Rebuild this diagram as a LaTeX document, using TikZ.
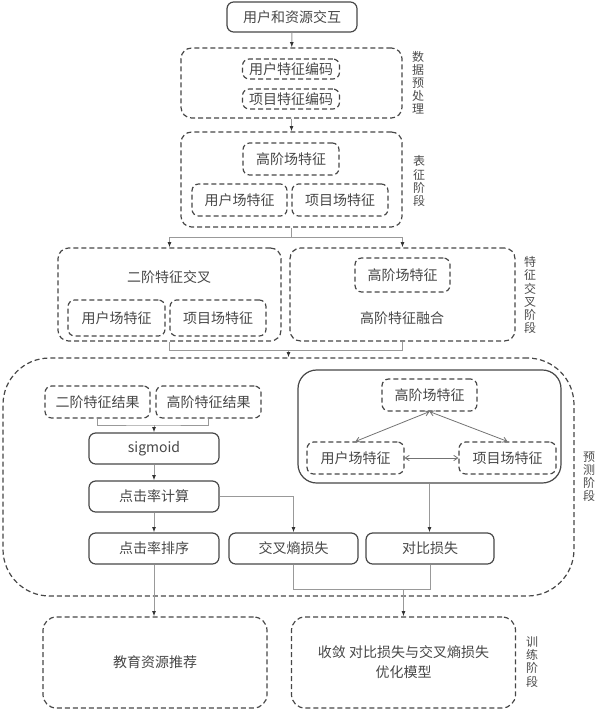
\documentclass[tikz,border=0pt]{standalone}
\usepackage{fontspec}
\setmainfont{Noto Sans CJK SC}
\usetikzlibrary{arrows.meta}
\newlength\pxu
\setlength\pxu{0.75pt}
\begin{document}
\begin{tikzpicture}[x=0.75pt,y=-0.75pt,font=\fontsize{10.5}{15}\selectfont,text=black!72,
                    >={Latex[length=4pt,width=3pt,color=black!80]}]
    \tikzstyle{boite}=[draw=black!72,line width=0.9pt,rounded corners=5pt,inner sep=0pt]
    \tikzstyle{tiret}=[boite,dash pattern=on 3.75pt off 2.25pt]
    \tikzstyle{cadre}=[tiret,rounded corners=8pt]
    \tikzstyle{lien}=[draw=black!40,line width=0.7pt]
    \tikzstyle{double}=[draw=black!55,line width=0.6pt,{Straight Barb[length=3pt,width=4pt]}-{Straight Barb[length=3pt,width=4pt]}]
    \tikzstyle{etape}=[align=center,font=\fontsize{9}{9.8}\selectfont,text=black!70]
    \tikzset{taille/.style 2 args={minimum width=#1\pxu,minimum height=#2\pxu}}
    \useasboundingbox (0,0) rectangle (600,713);
    % donnees
    \node[boite,taille={130}{30}] (inter) at (292,17) {用户和资源交互};
    \node[cadre,taille={221}{70}] (pre) at (291.5,83) {};
    \node[tiret,taille={97}{20}] (ucode) at (291,69) {用户特征编码};
    \node[tiret,taille={97}{20}] (icode) at (291,99) {项目特征编码};
    \node[etape] at (418,83) {数\\据\\预\\处\\理};
    % representation
    \node[cadre,taille={221}{95}] (rep) at (291.5,179.5) {};
    \node[tiret,taille={96}{32}] (rhaut) at (291,159) {高阶场特征};
    \node[tiret,taille={95}{32}] (ruser) at (239.5,200) {用户场特征};
    \node[tiret,taille={96}{32}] (ritem) at (340,200) {项目场特征};
    \node[etape] at (419,181) {表\\征\\阶\\段};
    % croisement
    \node[cadre,taille={223}{93}] (croix) at (169.5,294.5) {};
    \node at (169,277) {二阶特征交叉};
    \node[tiret,taille={97}{36}] (cuser) at (116.5,318) {用户场特征};
    \node[tiret,taille={96}{36}] (citem) at (218,318) {项目场特征};
    \node[cadre,taille={225}{93}] (fusion) at (402.5,294.5) {};
    \node[tiret,taille={95}{34}] (fhaut) at (402.5,275) {高阶场特征};
    \node at (402,318) {高阶特征融合};
    \node[etape] at (530,295) {特\\征\\交\\叉\\阶\\段};
    % prediction
    \node[tiret,rounded corners=35pt,taille={571}{238}] (pred) at (288.5,477) {};
    \node[etape] at (589,477) {预\\测\\阶\\段};
    \node[tiret,taille={105}{32}] (res2) at (97.5,402) {二阶特征结果};
    \node[tiret,taille={105}{32}] (resh) at (208.5,402) {高阶特征结果};
    \node[boite,taille={130}{31}] (sig) at (154,448.5) {sigmoid};
    \node[boite,taille={130}{31}] (ctr) at (154,496.5) {点击率计算};
    \node[boite,taille={130}{31}] (tri) at (154,548.5) {点击率排序};
    \node[boite,taille={129}{31}] (ce) at (293.5,548.5) {交叉熵损失};
    \node[boite,taille={128}{31}] (cl) at (430,548.5) {对比损失};
    \node[boite,rounded corners=14pt,taille={263}{113}] (graphe) at (429.5,426.5) {};
    \node[tiret,taille={95}{32}] (ghaut) at (429.5,395) {高阶场特征};
    \node[tiret,taille={97}{32}] (guser) at (355.5,458) {用户场特征};
    \node[tiret,taille={97}{32}] (gitem) at (507.5,458) {项目场特征};
    % entrainement
    \node[cadre,rounded corners=10pt,taille={224}{91}] (rec) at (155,662.5) {教育资源推荐};
    \node[cadre,rounded corners=10pt,taille={224}{91},align=center] (train) at (403.5,662.5) {收敛 对比损失与交叉熵损失\\优化模型};
    \node[etape] at (532,662) {训\\练\\阶\\段};
    % liens
    \coordinate (j1) at (291.5,237);
    \coordinate (j2) at (288.5,350);
    \coordinate (j3) at (154,425);
    \coordinate (j4) at (403.5,589);
    \draw[lien,->] (inter) -- (pre);
    \draw[lien,->] (pre) -- (rep);
    \draw[lien] (rep.south) -- (j1);
    \draw[lien,->] (j1) -| (croix.north);
    \draw[lien,->] (j1) -| (fusion.north);
    \draw[lien] (croix.south) |- (j2);
    \draw[lien] (fusion.south) |- (j2);
    \draw[lien,->] (j2) -- (pred.north);
    \draw[lien] (res2.south) |- (j3) -| (resh.south);
    \draw[lien,->] (j3) -- (sig.north);
    \draw[lien,->] (sig) -- (ctr);
    \draw[lien,->] (ctr) -- (tri);
    \draw[lien,->] (ctr.east) -| (ce.north);
    \draw[lien,->] (graphe.south) -- (graphe.south |- cl.north);
    \draw[double] (ghaut.south) -- (guser.north);
    \draw[double] (ghaut.south) -- (gitem.north);
    \draw[double] (guser.east) -- (gitem.west);
    \draw[lien] (ce.south) |- (j4);
    \draw[lien] (cl.south) |- (j4);
    \draw[lien,->] (j4) -- (train.north);
    \draw[lien,->] (tri.south) -- (tri.south |- rec.north);
\end{tikzpicture}
\end{document}
